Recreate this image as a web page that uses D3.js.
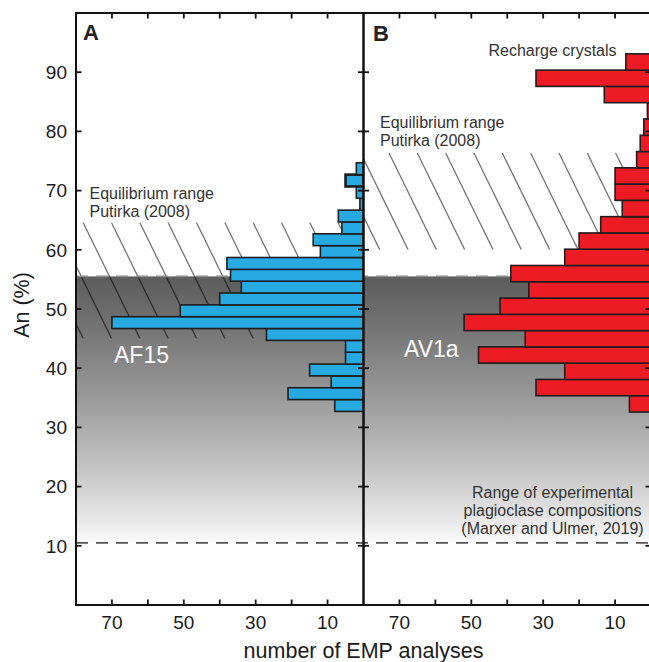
<!DOCTYPE html>
<html>
<head>
<meta charset="utf-8">
<script src="https://cdn.jsdelivr.net/npm/d3@7"></script>
<style>
  html, body { margin: 0; padding: 0; background: #fff; }
  svg { display: block; font-family: "Liberation Sans", Arial, Helvetica, sans-serif; }
</style>
</head>
<body>
<svg id="chart" width="649" height="662"></svg>
<script>
// Plagioclase An content histograms (counts of EMP analyses per bin)
const af15BinLow = [32.7, 34.7, 36.7, 38.7, 40.7, 42.7, 44.7, 46.7, 48.7, 50.7, 52.7,
                    54.7, 56.7, 58.7, 60.7, 62.7, 64.7, 66.7, 68.7, 70.7, 72.7];
const af15BinWidth = 2;
const af15Counts = [8, 21, 9, 15, 5, 5, 27, 70, 51, 40, 34, 37, 38, 12, 14, 6, 7, 1, 2, 5, 2];

const av1aBinLow = [32.6, 35.35, 38.1, 40.85, 43.6, 46.35, 49.1, 51.85, 54.6, 57.35, 60.1,
                    62.85, 65.6, 68.35, 71.1, 73.85, 76.6, 79.35, 82.1, 84.85, 87.6, 90.35];
const av1aBinWidth = 2.75;
const av1aCounts = [6, 32, 24, 48, 35, 52, 42, 34, 39, 24, 20, 14, 8, 10, 10, 4, 3, 2, 1, 13, 32, 7];

// Reference ranges (An %)
const equilibriumA = [45, 64.6];     // Putirka (2008), AF15
const equilibriumB = [60, 76.4];     // Putirka (2008), AV1a
const experimentalRange = [10.5, 55.5]; // Marxer and Ulmer (2019)

// Axis ticks
const anTicks = [10, 20, 30, 40, 50, 60, 70, 80, 90];
const countTicks = [10, 20, 30, 40, 50, 60, 70];
const countTickLabels = [70, 50, 30, 10];

const svg = d3.select("#chart");

const plotTop = 13, plotBottom = 605;
const y = d3.scaleLinear().domain([0, 100]).range([plotBottom, plotTop]);
const xA = d3.scaleLinear().domain([80, 0]).range([76, 363.5]);
const xB = d3.scaleLinear().domain([80, 0]).range([363.5, 651]);

const defs = svg.append("defs");
const grad = defs.append("linearGradient")
  .attr("id", "expGrad").attr("x1", 0).attr("y1", 0).attr("x2", 0).attr("y2", 1);
[[0, "#5c5c5c"], [0.2, "#757575"], [0.475, "#9d9d9d"], [0.73, "#c6c6c6"], [0.92, "#e9e9e9"], [1, "#fbfbfb"]]
  .forEach(([o, c]) => grad.append("stop").attr("offset", o).attr("stop-color", c));

defs.append("clipPath").attr("id", "clipA").append("rect")
  .attr("x", xA(80)).attr("y", plotTop).attr("width", xA(0) - xA(80)).attr("height", plotBottom - plotTop);
defs.append("clipPath").attr("id", "clipB").append("rect")
  .attr("x", xB(80)).attr("y", plotTop).attr("width", xB(0) - xB(80)).attr("height", plotBottom - plotTop);

// Experimental composition range: grey gradient across both panels
svg.append("rect")
  .attr("x", xA(80)).attr("y", y(experimentalRange[1]))
  .attr("width", xB(0) - xA(80))
  .attr("height", y(experimentalRange[0]) - y(experimentalRange[1]))
  .attr("fill", "url(#expGrad)");

// Diagonal hatching for the equilibrium ranges
const hatchSlope = 0.49, hatchStep = 28.33, hatchX0 = 82.7, hatchY0 = 221.7;
function hatch(range, xs, clipId) {
  const y0 = y(range[1]), y1 = y(range[0]);
  const x0 = xs(80), x1 = xs(0);
  const g = svg.append("g");
  defs.append("clipPath").attr("id", clipId).append("rect")
    .attr("x", x0).attr("y", y0).attr("width", x1 - x0).attr("height", y1 - y0);
  g.attr("clip-path", `url(#${clipId})`);
  const base = hatchX0 + hatchSlope * (y0 - hatchY0);
  const kMin = Math.floor((x0 - base - hatchSlope * (y1 - y0)) / hatchStep) - 1;
  const kMax = Math.ceil((x1 - base) / hatchStep) + 1;
  const ks = d3.range(kMin, kMax + 1);
  g.selectAll("line").data(ks).join("line")
    .attr("x1", k => base + k * hatchStep).attr("y1", y0)
    .attr("x2", k => base + k * hatchStep + hatchSlope * (y1 - y0)).attr("y2", y1)
    .attr("stroke", "#000").attr("stroke-opacity", 0.55).attr("stroke-width", 1.3);
}
hatch(equilibriumA, xA, "hatchClipA");
hatch(equilibriumB, xB, "hatchClipB");

// Dashed boundaries of the experimental range
svg.append("line")
  .attr("x1", xA(80)).attr("x2", xB(0))
  .attr("y1", y(experimentalRange[1])).attr("y2", y(experimentalRange[1]))
  .attr("stroke", "#8c8c8c").attr("stroke-width", 1.8).attr("stroke-dasharray", "12,8");
svg.append("line")
  .attr("x1", xA(80)).attr("x2", xB(0))
  .attr("y1", y(experimentalRange[0])).attr("y2", y(experimentalRange[0]))
  .attr("stroke", "#555").attr("stroke-width", 1.6).attr("stroke-dasharray", "12,8");

// Histogram bars
function bars(lows, width, counts, xs, fill, clipId, heavyIndex) {
  const data = lows.map((lo, i) => ({ lo, hi: lo + width, n: counts[i], i }));
  svg.append("g").attr("clip-path", `url(#${clipId})`)
    .selectAll("rect").data(data).join("rect")
    .attr("x", d => xs(d.n))
    .attr("y", d => y(d.hi))
    .attr("width", d => xs(0) - xs(d.n))
    .attr("height", d => y(d.lo) - y(d.hi))
    .attr("fill", fill)
    .attr("stroke", "#1e1e1e")
    .attr("stroke-width", d => d.i === heavyIndex ? 2.6 : 1.6);
}
bars(af15BinLow, af15BinWidth, af15Counts, xA, "#27a9e1", "clipA", 19);
bars(av1aBinLow, av1aBinWidth, av1aCounts, xB, "#ed1c24", "clipB", -1);

// Frames and ticks
function frame(xs) {
  const g = svg.append("g");
  const x0 = xs(80), x1 = xs(0);
  g.append("rect").attr("x", x0).attr("y", plotTop).attr("width", x1 - x0).attr("height", plotBottom - plotTop)
    .attr("fill", "none").attr("stroke", "#111").attr("stroke-width", 2);
  const tl = 5.5;
  g.selectAll(".tb").data(countTicks).join("line").attr("class", "tb")
    .attr("x1", d => xs(d)).attr("x2", d => xs(d)).attr("y1", plotBottom).attr("y2", plotBottom - tl)
    .attr("stroke", "#111").attr("stroke-width", 1.8);
  g.selectAll(".tt").data(countTicks).join("line").attr("class", "tt")
    .attr("x1", d => xs(d)).attr("x2", d => xs(d)).attr("y1", plotTop).attr("y2", plotTop + tl)
    .attr("stroke", "#111").attr("stroke-width", 1.8);
  g.selectAll(".yl").data(anTicks).join("line").attr("class", "yl")
    .attr("x1", x0).attr("x2", x0 + tl).attr("y1", d => y(d)).attr("y2", d => y(d))
    .attr("stroke", "#111").attr("stroke-width", 1.8);
  g.selectAll(".yr").data(anTicks).join("line").attr("class", "yr")
    .attr("x1", x1).attr("x2", x1 - tl).attr("y1", d => y(d)).attr("y2", d => y(d))
    .attr("stroke", "#111").attr("stroke-width", 1.8);
  g.selectAll(".xl").data(countTickLabels).join("text").attr("class", "xl")
    .attr("x", d => xs(d)).attr("y", 628.5)
    .attr("text-anchor", "middle").attr("font-size", 19).attr("fill", "#1a1a1a")
    .text(d => d);
}
frame(xA);
frame(xB);

// An axis labels
svg.selectAll(".ylab").data(anTicks).join("text").attr("class", "ylab")
  .attr("x", 67).attr("y", d => y(d) + 6.8)
  .attr("text-anchor", "end").attr("font-size", 19).attr("fill", "#1a1a1a")
  .text(d => d);

svg.append("text")
  .attr("transform", "translate(29,305) rotate(-90)")
  .attr("text-anchor", "middle").attr("font-size", 21.5).attr("fill", "#1a1a1a")
  .text("An (%)");

svg.append("text")
  .attr("x", xA(0)).attr("y", 658)
  .attr("text-anchor", "middle").attr("font-size", 21.5).attr("fill", "#1a1a1a")
  .text("number of EMP analyses");

// Panel letters
svg.append("text").attr("x", 83).attr("y", 39.5)
  .attr("font-size", 22).attr("font-weight", "bold").attr("fill", "#222").text("A");
svg.append("text").attr("x", 373).attr("y", 40.5)
  .attr("font-size", 22).attr("font-weight", "bold").attr("fill", "#222").text("B");

// Annotations
const note = (x, yy, lines, anchor) => {
  const t = svg.append("text").attr("x", x).attr("y", yy)
    .attr("font-size", 16).attr("fill", "#333").attr("text-anchor", anchor || "start");
  lines.forEach((s, i) => t.append("tspan").attr("x", x).attr("dy", i === 0 ? 0 : 18).text(s));
};
note(89.5, 199.3, ["Equilibrium range", "Putirka (2008)"]);
note(380, 127.7, ["Equilibrium range", "Putirka (2008)"]);
note(488.5, 56, ["Recharge crystals"]);
note(552.5, 498.3, ["Range of experimental", "plagioclase compositions", "(Marxer and Ulmer, 2019)"], "middle");

svg.append("text").attr("x", 114).attr("y", 362.7)
  .attr("font-size", 23).attr("fill", "#fff").text("AF15");
svg.append("text").attr("x", 404).attr("y", 356.7)
  .attr("font-size", 23).attr("fill", "#fff").text("AV1a");
</script>
</body>
</html>
